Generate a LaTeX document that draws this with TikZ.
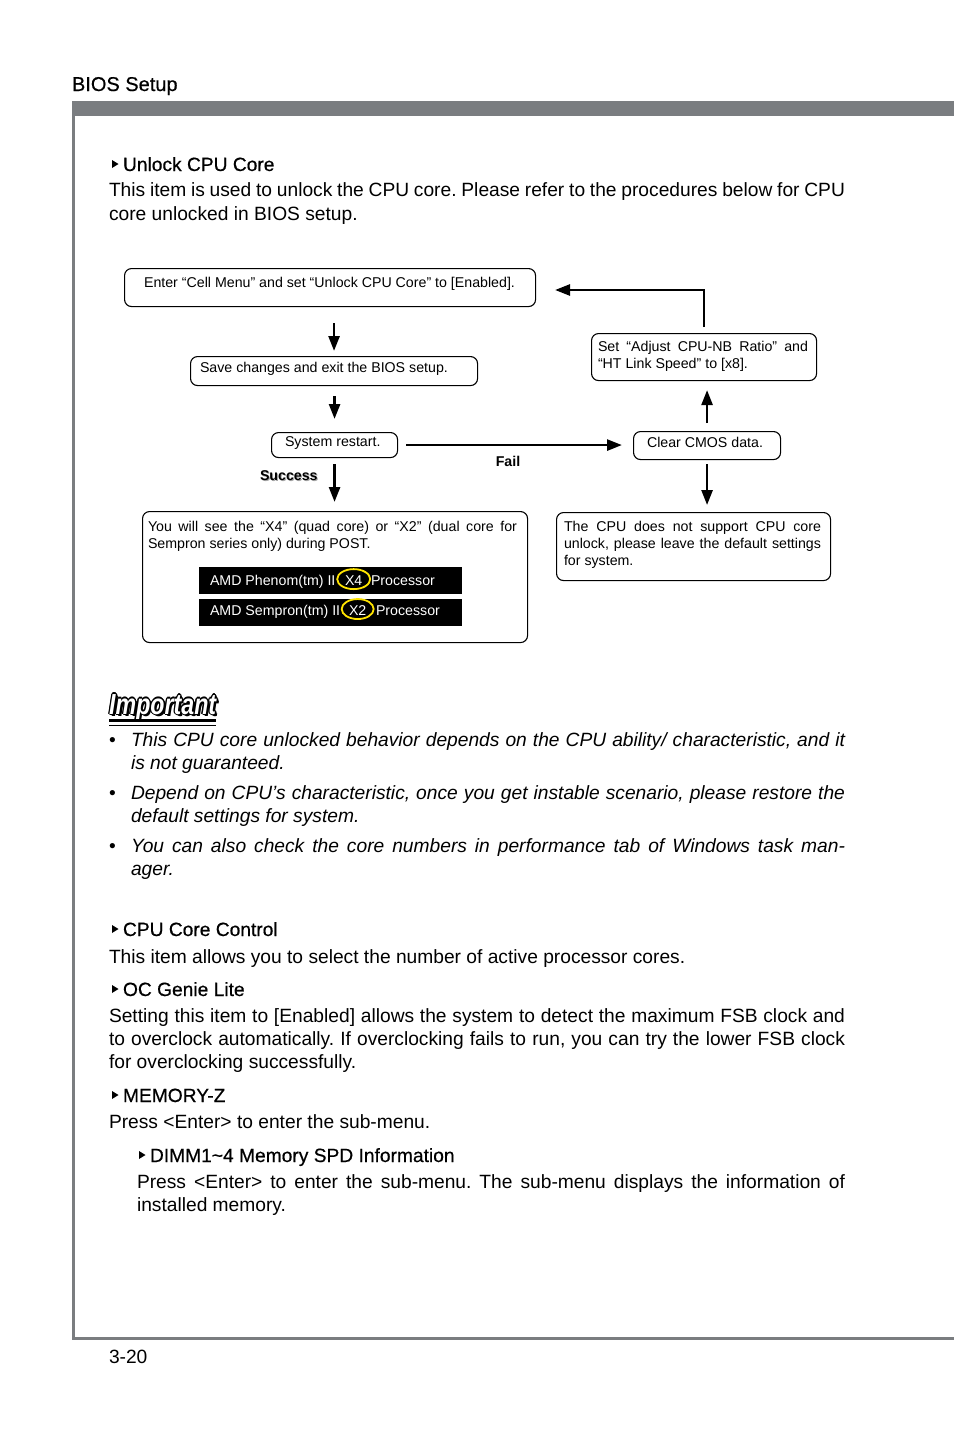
\documentclass[tikz,border=0pt]{standalone}
\usepackage{fontspec}
\setmainfont{Liberation Sans}
\newfontfamily\headfont{Liberation Sans}[FakeBold=0.5]
\usetikzlibrary{arrows.meta,shapes.geometric,calc}
\definecolor{barGray}{RGB}{122,125,128}
\definecolor{hiYellow}{RGB}{255,228,0}
\newcommand\headmark[2]{\fill (#1,#2-11) -- (#1+6.5,#2-7) -- (#1,#2-3) -- cycle;}
\frenchspacing
\begin{document}
\frenchspacing
\begin{tikzpicture}[x=1pt,y=-1pt,
  txt/.style={anchor=base west, inner sep=0pt, outer sep=0pt, font=\fontsize{19.2}{23}\selectfont\frenchspacing},
  itxt/.style={txt, font=\fontsize{19.2}{23}\selectfont\itshape\frenchspacing},
  head/.style={txt, font=\headfont\fontsize{19.2}{23}\selectfont},
  ftxt/.style={anchor=base west, inner sep=0pt, outer sep=0pt, font=\fontsize{14.2}{17}\selectfont\frenchspacing},
  fbold/.style={ftxt, font=\fontsize{14.2}{17}\selectfont\bfseries},
  flowbox/.style={draw, line width=1.1pt, rounded corners=7pt, anchor=north west, inner sep=0pt},
  blackbar/.style={fill=black, anchor=north west, inner sep=0pt, minimum width=263pt, minimum height=26.5pt},
  farrow/.style={line width=2.6pt, -{Triangle[length=15pt,width=11pt]}},
  logo/.style={anchor=base west, inner sep=0pt, font=\fontsize{29}{30}\selectfont\bfseries\itshape}]

\useasboundingbox (0,0) rectangle (954,1432);
\fill[white] (0,0) rectangle (954,1432);

% page frame
\node[txt, font=\headfont\fontsize{20}{24}\selectfont] (hdr) at (72,91) {BIOS Setup};
\fill[barGray] (72,101) rectangle (954,116);
\fill[barGray] (72,101) rectangle (75,1340);
\fill[barGray] (72,1337) rectangle (954,1340);

% Unlock CPU Core
\headmark{112}{171}
\node[head] (h1) at (123,171) {Unlock CPU Core};
\node[txt] (p1a) at (109,196) {\makebox[736pt][s]{This item is used to unlock the CPU core. Please refer to the procedures below for CPU}};
\node[txt] (p1b) at (109,220) {core unlocked in BIOS setup.};

% flowchart boxes
\node[flowbox, minimum width=411pt, minimum height=38pt] (b1) at (124,268) {};
\node[ftxt, anchor=base] (t1) at (329.5,287) {Enter “Cell Menu” and set “Unlock CPU Core” to [Enabled].};

\node[flowbox, minimum width=287pt, minimum height=29pt] (b2) at (190,356) {};
\node[ftxt] (t2) at (200,372) {Save changes and exit the BIOS setup.};

\node[flowbox, minimum width=126pt, minimum height=25pt] (b3) at (271,432) {};
\node[ftxt] (t3) at (285,446) {System restart.};

\node[flowbox, minimum width=385pt, minimum height=131pt] (b4) at (142,511) {};
\node[ftxt] (t4a) at (148,531) {\makebox[369pt][s]{You will see the “X4” (quad core) or “X2” (dual core for}};
\node[ftxt] (t4b) at (148,548) {Sempron series only) during POST.};

\node[blackbar] (bar1) at (199,567) {};
\node[blackbar] (bar2) at (199,599) {};
\node[ftxt, text=white] (a1) at (210,585) {AMD Phenom(tm) II};
\node[ftxt, text=white] (x4) at (345,585) {X4};
\node[ftxt, text=white] (a1p) at (371,585) {Processor};
\draw[hiYellow, line width=1.8pt] ($(x4.center)+(0,-1)$) ellipse (16.5 and 10);
\node[ftxt, text=white] (a2) at (210,615) {AMD Sempron(tm) II};
\node[ftxt, text=white] (x2) at (349,615) {X2};
\node[ftxt, text=white] (a2p) at (376,615) {Processor};
\draw[hiYellow, line width=1.8pt] ($(x2.center)+(0,-1)$) ellipse (16 and 10);

\node[flowbox, minimum width=225pt, minimum height=47pt] (b5) at (591,333) {};
\node[ftxt] (t5a) at (598,351) {\makebox[210pt][s]{Set “Adjust CPU-NB Ratio” and}};
\node[ftxt] (t5b) at (598,368) {“HT Link Speed” to [x8].};

\node[flowbox, minimum width=147pt, minimum height=28pt] (b6) at (633,431) {};
\node[ftxt] (t6) at (647,447) {Clear CMOS data.};

\node[flowbox, minimum width=274pt, minimum height=68pt] (b7) at (556,512) {};
\node[ftxt] (t7a) at (564,531) {\makebox[257pt][s]{The CPU does not support CPU core}};
\node[ftxt] (t7b) at (564,548) {\makebox[257pt][s]{unlock, please leave the default settings}};
\node[ftxt] (t7c) at (564,565) {for system.};

% connectors
\draw[farrow, shorten <=16pt, shorten >=5pt] (b1.south -| b2.north) -- (b2.north);
\draw[farrow, shorten <=10pt, shorten >=13pt] (b2.south -| b3.north) -- (b3.north);
\draw[farrow, shorten <=8pt, shorten >=11pt] (b3.east) -- (b3.east -| b6.west);
\draw[farrow, shorten <=6pt, shorten >=9pt] (b3.south) -- (b3.south |- b4.north);
\draw[farrow, shorten <=8pt, shorten >=9pt] (b6.north) -- (b6.north |- b5.south);
\draw[farrow, shorten <=4pt, shorten >=7pt] (b6.south) -- (b6.south |- b7.north);
\coordinate (loopend) at (555,290);
\draw[farrow, shorten <=6pt] (b5.north) |- (loopend);

\node[fbold, anchor=base] (fail) at (508,466) {Fail};
\node[fbold, text=black!35] (succS) at (261,481) {Success};
\node[fbold] (succ) at (260,480) {Success};

% Important logo
\foreach \dx/\dy [count=\i] in {2.2/2.2, 1.3/0, -1.3/0, 0/1.3, 0/-1.3, 0.9/0.9, -0.9/0.9, 0.9/-0.9, -0.9/-0.9, 1.6/1.6}
  \node[logo, text=black] (lg\i) at (109+\dx,714+\dy) {\scalebox{0.8}[1]{Important}};
\node[logo, text=white] (lgw) at (109,714) {\scalebox{0.8}[1]{Important}};
\draw[line width=3pt] (109,720.5) -- (216,720.5);
\draw[line width=1.3pt] (109,725.5) -- (216,725.5);

% bullets
\node[txt] (bu1) at (109,746) {•};
\node[itxt] (i1a) at (131,746) {\makebox[714pt][s]{This CPU core unlocked behavior depends on the CPU ability/ characteristic, and it}};
\node[itxt] (i1b) at (131,769) {is not guaranteed.};
\node[txt] (bu2) at (109,799) {•};
\node[itxt] (i2a) at (131,799) {\makebox[714pt][s]{Depend on CPU’s characteristic, once you get instable scenario, please restore the}};
\node[itxt] (i2b) at (131,822) {default settings for system.};
\node[txt] (bu3) at (109,852) {•};
\node[itxt] (i3a) at (131,852) {\makebox[714pt][s]{You can also check the core numbers in performance tab of Windows task man-}};
\node[itxt] (i3b) at (131,875) {ager.};

% CPU Core Control
\headmark{112}{936}
\node[head] (h2) at (123,936) {CPU Core Control};
\node[txt] (p2) at (109,963) {This item allows you to select the number of active processor cores.};

% OC Genie Lite
\headmark{112}{996}
\node[head] (h3) at (123,996) {OC Genie Lite};
\node[txt] (p3a) at (109,1022) {\makebox[736pt][s]{Setting this item to [Enabled] allows the system to detect the maximum FSB clock and}};
\node[txt] (p3b) at (109,1045) {\makebox[736pt][s]{to overclock automatically. If overclocking fails to run, you can try the lower FSB clock}};
\node[txt] (p3c) at (109,1068) {for overclocking successfully.};

% MEMORY-Z
\headmark{112}{1102}
\node[head] (h4) at (123,1102) {MEMORY-Z};
\node[txt] (p4) at (109,1128) {Press <Enter> to enter the sub-menu.};

% DIMM
\headmark{139}{1162}
\node[head] (h5) at (150,1162) {DIMM1\char`~4 Memory SPD Information};
\node[txt] (p5a) at (137,1188) {\makebox[708pt][s]{Press <Enter> to enter the sub-menu. The sub-menu displays the information of}};
\node[txt] (p5b) at (137,1211) {installed memory.};

% page number
\node[txt] (pg) at (109,1363) {3-20};
\end{tikzpicture}
\end{document}
